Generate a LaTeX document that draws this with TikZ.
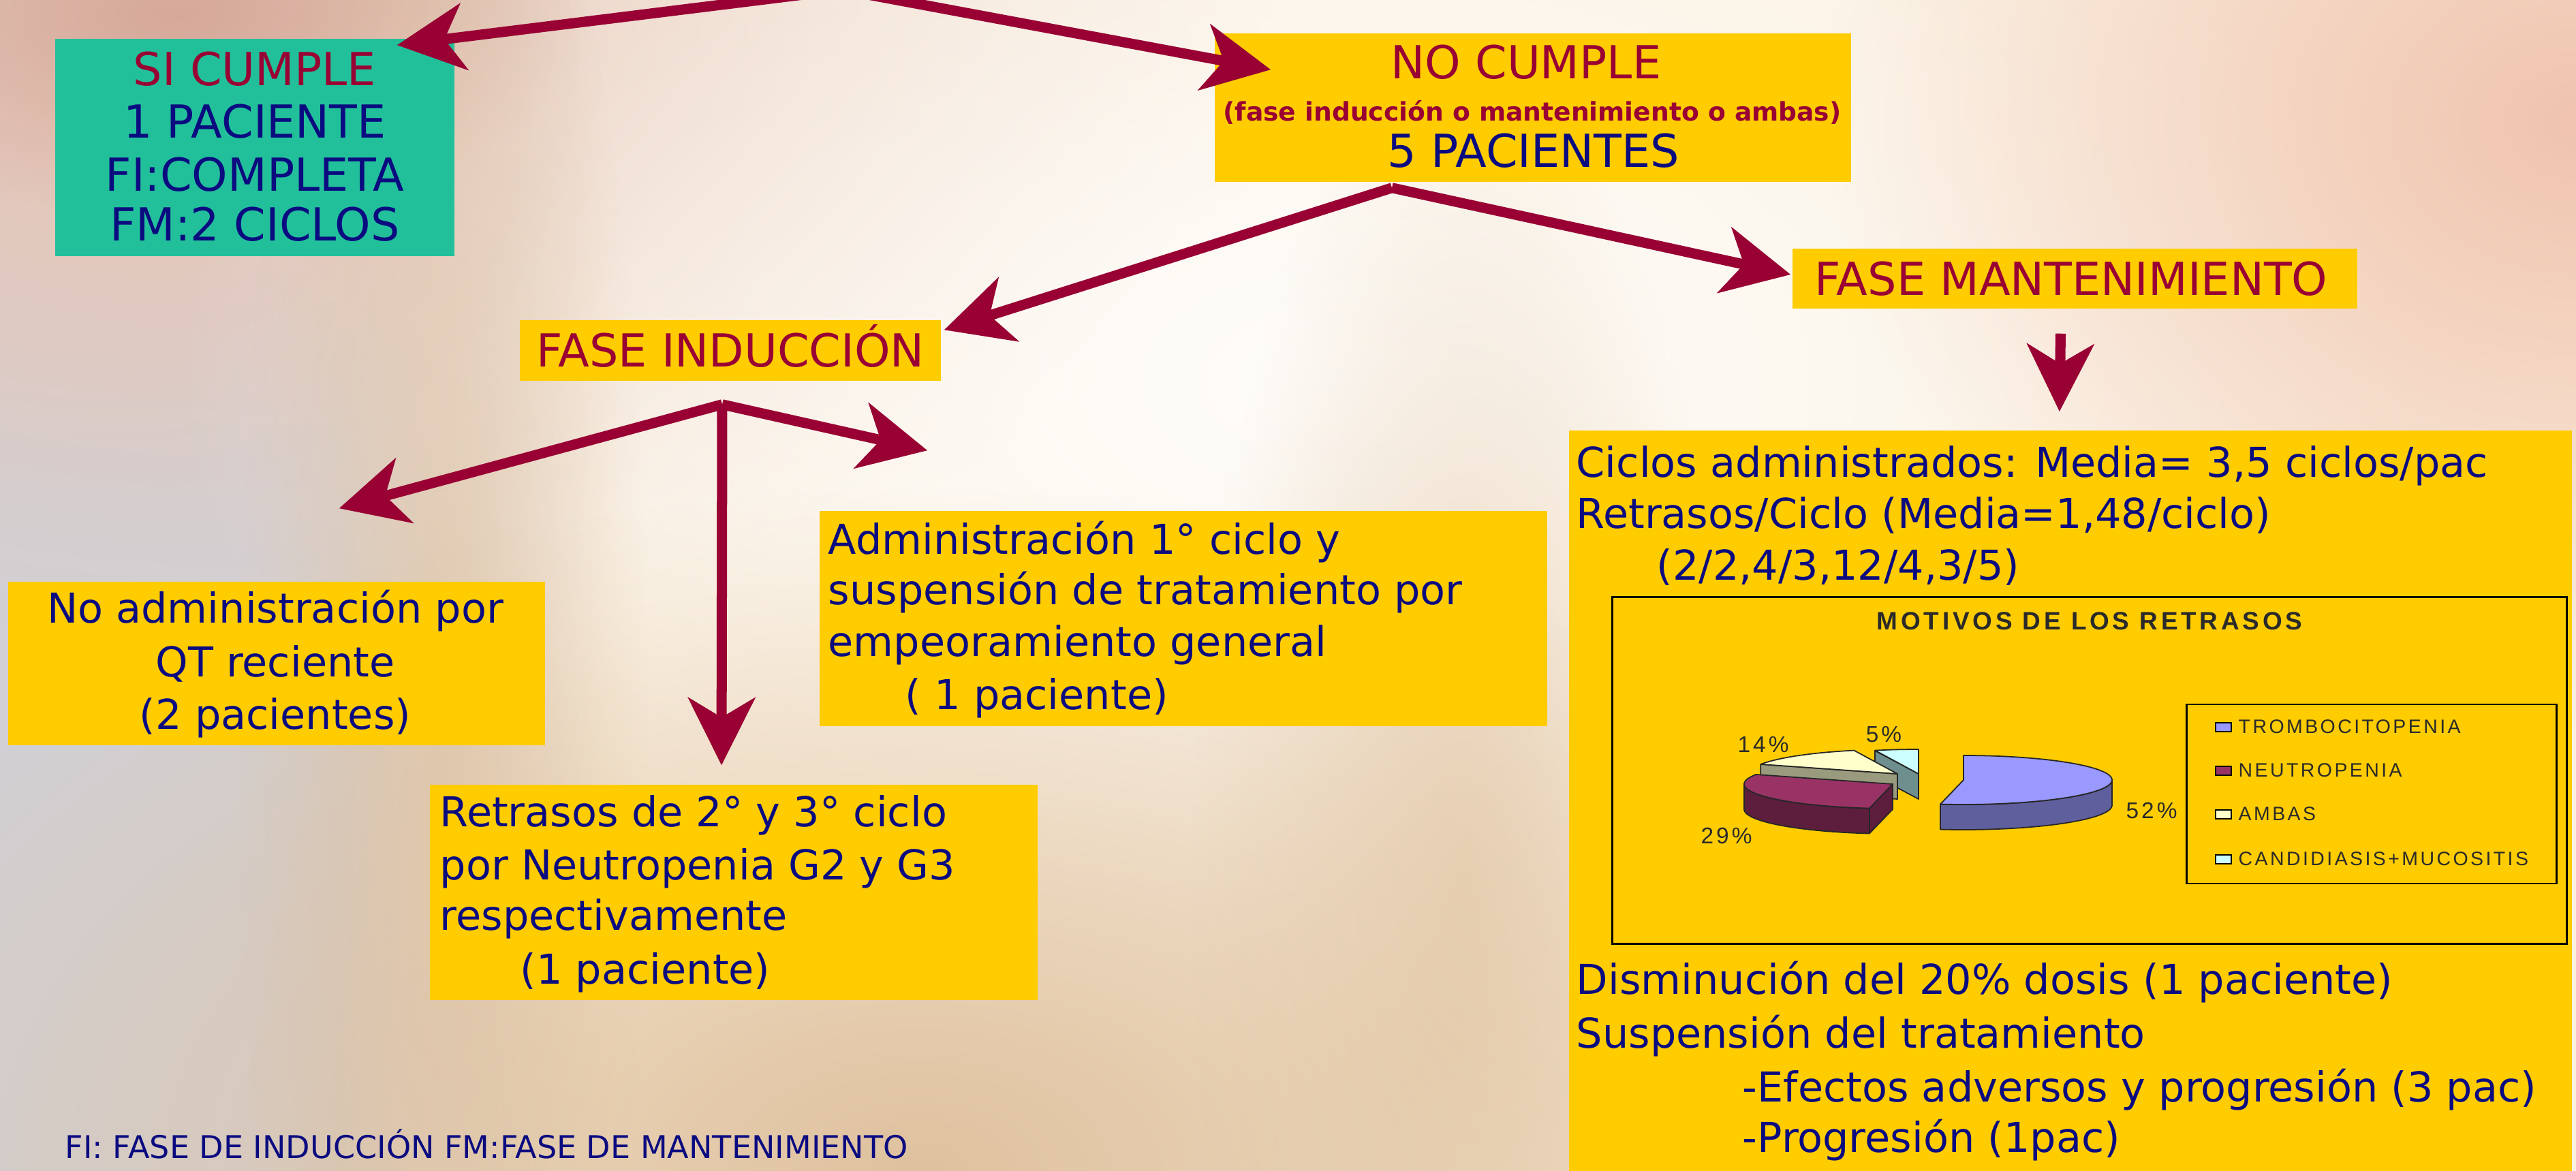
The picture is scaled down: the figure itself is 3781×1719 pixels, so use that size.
\documentclass[tikz,border=0pt]{standalone}
\usepackage{fontspec}
\setmainfont{DejaVu Sans}
\newfontfamily\arialsp[LetterSpace=12]{Liberation Sans}
\newfontfamily\arialpc[LetterSpace=12]{Liberation Sans}
\newfontfamily\arialtt[LetterSpace=13]{Liberation Sans}
\usetikzlibrary{arrows.meta,fadings,calc}
\definecolor{bgcream}{HTML}{FBF1E1}
\definecolor{bggray}{HTML}{D2D0D4}
\definecolor{bgwarm}{HTML}{E6C8BA}
\definecolor{bgred}{HTML}{D6A899}
\definecolor{bgpeach}{HTML}{F0C4AE}
\definecolor{bgtan}{HTML}{DFC19E}
\definecolor{boxyellow}{HTML}{FFCC00}
\definecolor{siteal}{HTML}{22C09A}
\definecolor{titlered}{HTML}{990033}
\definecolor{arrowred}{HTML}{990033}
\definecolor{txtblue}{HTML}{0B0B80}
\definecolor{chartgray}{HTML}{2A2A2A}
\definecolor{sAtop}{HTML}{9999FF}
\definecolor{sAside}{HTML}{5F5F9E}
\definecolor{sBtop}{HTML}{993366}
\definecolor{sBside}{HTML}{5C1E3C}
\definecolor{sCtop}{HTML}{FFFFCC}
\definecolor{sCside}{HTML}{9A9A7E}
\definecolor{sDtop}{HTML}{CCFFFF}
\definecolor{sDside}{HTML}{6F8F8F}
\pgfdeclarehorizontalshading{grayfade}{100bp}{color(0bp)=(bggray); color(25bp)=(bggray); color(46bp)=(bggray); color(62bp)=(bgcream); color(75bp)=(bgcream); color(100bp)=(bgcream)}
\tikzfading[name=softblob, inner color=transparent!0, outer color=transparent!100]
\tikzset{
  ybx/.style={rectangle, fill=boxyellow, inner sep=0pt, draw=none},
  sbx/.style={rectangle, fill=siteal, inner sep=0pt, draw=none},
  bodyt/.style={font=\fontsize{17.2}{21.6}\selectfont, text=txtblue, inner sep=0pt},
  ttl/.style={font=\fontsize{19}{22}\selectfont, text=titlered, inner sep=0pt},
  ttlb/.style={ttl, text=txtblue},
  smallt/.style={font=\fontsize{10.7}{12}\selectfont\bfseries, text=titlered, inner sep=0pt},
  foot/.style={font=\fontsize{13.1}{15}\selectfont, text=txtblue, inner sep=0pt},
  legt/.style={font=\arialsp\fontsize{8.1}{9}\selectfont, text=chartgray, inner sep=0pt, anchor=base west},
  pct/.style={font=\arialpc\fontsize{9.5}{11}\selectfont, text=chartgray, inner sep=0pt},
  pie/.style={draw=black!85, line width=0.5pt, line join=round},
  arr/.style={draw=arrowred, line width=0.15cm, -{Stealth[length=1cm, width=1cm, inset=0.3cm, line width=0.3pt]}},
}
\begin{document}
\begin{tikzpicture}[x=0.01cm, y=-0.01cm]
\useasboundingbox (0,0) rectangle (3781,1719);
\clip (0,0) rectangle (3781,1719);
% ---------- background ----------
\fill[bgcream] (0,0) rectangle (3781,1719);
\shade[shading=grayfade] (0,0) rectangle (1200,1719);
\fill[bgwarm, path fading=softblob] (380,40) ellipse [x radius=15cm, y radius=9cm];
\fill[bgwarm, path fading=softblob] (150,120) ellipse [x radius=7cm, y radius=6cm];
\fill[bgred, path fading=softblob] (260,20) ellipse [x radius=6cm, y radius=3cm];
\fill[white, path fading=softblob, opacity=0.85] (1950,560) ellipse [x radius=17cm, y radius=10cm];
\fill[bgpeach, path fading=softblob] (3781,180) ellipse [x radius=11cm, y radius=9cm];
\fill[bgtan, path fading=softblob] (1350,1719) ellipse [x radius=17cm, y radius=10cm];
\fill[bgtan, path fading=softblob, opacity=0.7] (650,1050) ellipse [x radius=3cm, y radius=15cm];
\fill[bgtan, path fading=softblob, opacity=0.6] (2150,1300) ellipse [x radius=4cm, y radius=12cm];
% ---------- boxes ----------
\node[sbx, minimum width=5.86cm, minimum height=3.19cm] (sicumple) at (374,216.5) {};
\node[ybx, minimum width=9.34cm, minimum height=2.18cm] (nocumple) at (2250,158) {};
\node[ybx, minimum width=6.18cm, minimum height=0.89cm] (induccion) at (1072,514.5) {};
\node[ybx, minimum width=8.29cm, minimum height=0.88cm] (mantenimiento) at (3045.5,409) {};
\node[ybx, minimum width=7.88cm, minimum height=2.40cm] (noadmin) at (406,974) {};
\node[ybx, minimum width=10.68cm, minimum height=3.16cm] (admin) at (1737,908) {};
\node[ybx, minimum width=8.92cm, minimum height=3.16cm] (retrasos) at (1077,1310) {};
\node[ybx, minimum width=14.72cm, minimum height=10.87cm] (bigbox) at (3039,1175.5) {};
% ---------- texts ----------
\node[ttl, anchor=base] (si1) at (374,126) {SI CUMPLE};
\node[ttlb, anchor=base] (si2) at (374,203) {1 PACIENTE};
\node[ttlb, anchor=base] (si3) at (374,281) {FI:COMPLETA};
\node[ttlb, anchor=base] (si4) at (374,354) {FM:2 CICLOS};
\node[ttl, anchor=base] (no1) at (2240,116) {NO CUMPLE};
\node[smallt, anchor=base] (no2) at (2249,178) {(fase inducción o mantenimiento o ambas)};
\node[ttlb, anchor=base] (no3) at (2251,246) {5 PACIENTES};
\node[ttl, anchor=base] (ind1) at (1072,539) {FASE INDUCCIÓN};
\node[ttl, anchor=base] (man1) at (3040,434) {FASE MANTENIMIENTO};
\node[bodyt, anchor=base] (na1) at (404,915) {No administración por};
\node[bodyt, anchor=base] (na2) at (404,993) {QT reciente};
\node[bodyt, anchor=base] (na3) at (404,1070) {(2 pacientes)};
\node[bodyt, anchor=base west] (ad1) at (1215,814) {Administración 1° ciclo y};
\node[bodyt, anchor=base west] (ad2) at (1215,888) {suspensión de tratamiento por};
\node[bodyt, anchor=base west] (ad3) at (1215,963) {empeoramiento general};
\node[bodyt, anchor=base west] (ad4) at (1328,1041) {( 1 paciente)};
\node[bodyt, anchor=base west] (re1) at (645,1213) {Retrasos de 2° y 3° ciclo};
\node[bodyt, anchor=base west] (re2) at (645,1291) {por Neutropenia G2 y G3};
\node[bodyt, anchor=base west] (re3) at (645,1365) {respectivamente};
\node[bodyt, anchor=base west] (re4) at (763,1444) {(1 paciente)};
\node[bodyt, anchor=base west] (bg1) at (2313,701) {Ciclos administrados: Media= 3,5 ciclos/pac};
\node[bodyt, anchor=base west] (bg2) at (2313,776) {Retrasos/Ciclo (Media=1,48/ciclo)};
\node[bodyt, anchor=base west] (bg3) at (2431,852) {(2/2,4/3,12/4,3/5)};
\node[bodyt, anchor=base west] (bg4) at (2313,1459) {Disminución del 20\% dosis (1 paciente)};
\node[bodyt, anchor=base west] (bg5) at (2313,1538) {Suspensión del tratamiento};
\node[bodyt, anchor=base west] (bg6) at (2557,1617) {-Efectos adversos y progresión (3 pac)};
\node[bodyt, anchor=base west] (bg7) at (2557,1691) {-Progresión (1pac)};
\node[foot, anchor=base west] (ft) at (95,1700) {FI: FASE DE INDUCCIÓN FM:FASE DE MANTENIMIENTO};
% ---------- chart ----------
\node[draw=black, line width=0.8pt, inner sep=0pt, minimum width=14cm, minimum height=5.08cm] (chart) at (3067,1131) {};
\node[font=\arialtt\fontsize{10.5}{12}\selectfont\bfseries, text=chartgray, inner sep=0pt, anchor=base] (ctitle) at (3067,924) {MOTIVOS DE LOS RETRASOS};
\node[draw=black, line width=0.8pt, inner sep=0pt, minimum width=5.42cm, minimum height=2.63cm] (legend) at (3481,1165.5) {};
\fill[sAtop, draw=black, line width=0.5pt] (3252,1061) rectangle (3275,1074);
\fill[sBtop, draw=black, line width=0.5pt] (3252,1125) rectangle (3275,1138);
\fill[sCtop, draw=black, line width=0.5pt] (3252,1189) rectangle (3275,1202);
\fill[sDtop, draw=black, line width=0.5pt] (3252,1255) rectangle (3275,1268);
\node[legt] (lg1) at (3285,1076) {TROMBOCITOPENIA};
\node[legt] (lg2) at (3285,1140) {NEUTROPENIA};
\node[legt] (lg3) at (3285,1204) {AMBAS};
\node[legt] (lg4) at (3285,1270) {CANDIDIASIS+MUCOSITIS};
% 5% slice
\fill[sDside, pie] (2816,1136) -- (2752,1102) -- (2752,1139) -- (2816,1173) -- cycle;
\fill[sDtop, pie] (2816,1136) -- plot[domain=90:107, samples=10, variable=\a] ({2816+218*cos(\a)},{1136-36*sin(\a)}) -- cycle;
% 14% slice
\fill[sCside, pie] (2785,1136) -- ({2785+218*cos(157)},{1136-36*sin(157)}) -- ({2785+218*cos(157)},{1173-36*sin(157)}) -- (2785,1173) -- cycle;
\fill[sCtop, pie] (2785,1136) -- plot[domain=107:157, samples=20, variable=\a] ({2785+218*cos(\a)},{1136-36*sin(\a)}) -- cycle;
% 29% slice
\fill[sBside, pie] (2778,1151) -- ({2778+218*cos(261)},{1151-36*sin(261)}) -- ({2778+218*cos(261)},{1188-36*sin(261)}) -- (2778,1188) -- cycle;
\fill[sBside, pie] plot[domain=180:261, samples=30, variable=\a] ({2778+218*cos(\a)},{1151-36*sin(\a)}) -- plot[domain=261:180, samples=30, variable=\a] ({2778+218*cos(\a)},{1188-36*sin(\a)}) -- cycle;
\fill[sBtop, pie] (2778,1151) -- plot[domain=157:261, samples=40, variable=\a] ({2778+218*cos(\a)},{1151-36*sin(\a)}) -- cycle;
% 52% slice
\fill[sAside, pie] plot[domain=-99:0, samples=40, variable=\a] ({2882+218*cos(\a)},{1145-36*sin(\a)}) -- plot[domain=0:-99, samples=40, variable=\a] ({2882+218*cos(\a)},{1182-36*sin(\a)}) -- cycle;
\fill[sAtop, pie] (2882,1145) -- plot[domain=-99:90, samples=60, variable=\a] ({2882+218*cos(\a)},{1145-36*sin(\a)}) -- cycle;
\node[pct] (p52) at (3158,1190) {52\%};
\node[pct] (p14) at (2588,1093) {14\%};
\node[pct] (p5) at (2765,1078) {5\%};
\node[pct] (p29) at (2534,1227) {29\%};
% ---------- arrows ----------
\coordinate (src) at (1236,-15);
\coordinate (tSi) at ($(sicumple.north east)+(-85,10)$);
\coordinate (tNo) at ($(nocumple.north west)+(83,54)$);
\coordinate (sNo) at ($(nocumple.south west)+(261,8)$);
\coordinate (tInd) at ($(induccion.north east)+(4,15)$);
\coordinate (tMan) at ($(mantenimiento.west)+(-2,-6)$);
\coordinate (sInd) at ($(induccion.south)+(-12,34)$);
\coordinate (tNoAd) at ($(noadmin.north east)+(-303,-107)$);
\coordinate (tAdm) at ($(admin.north west)+(159,-88)$);
\coordinate (tRet) at ($(retrasos.north west)+(429,-28)$);
\coordinate (sMan) at ($(mantenimiento.south)+(-21,36)$);
\coordinate (tCic) at ($(bigbox.north west)+(721,-27)$);
\draw[arr] (src) -- (tSi);
\draw[arr] (src) -- (tNo);
\draw[arr] (sNo) -- (tInd);
\draw[arr] (sNo) -- (tMan);
\draw[arr] (sInd) -- (tNoAd);
\draw[arr] (sInd) -- (tAdm);
\draw[arr] (sInd) -- (tRet);
\draw[arr] (sMan) -- (tCic);
\end{tikzpicture}
\end{document}
